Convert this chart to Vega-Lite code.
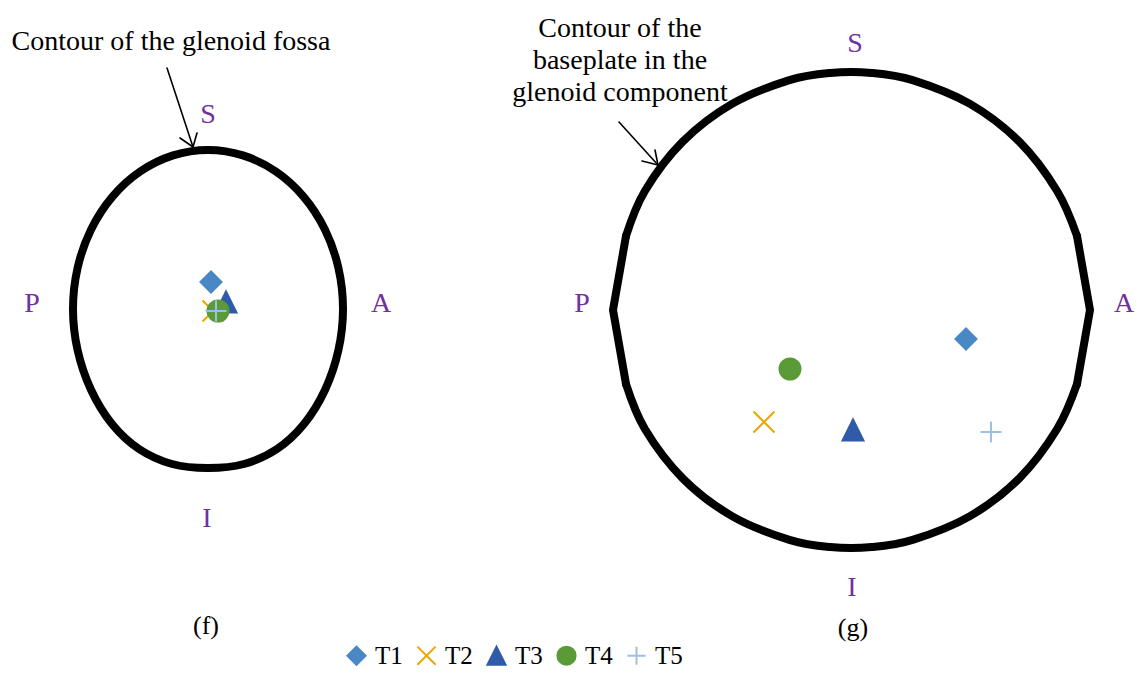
{
  "$schema": "https://vega.github.io/schema/vega-lite/v6.json",
  "width": 1142,
  "height": 673,
  "autosize": {"type": "fit", "contains": "padding"},
  "padding": 0,
  "background": "white",
  "config": {
    "view": {"stroke": null},
    "font": "Liberation Serif",
    "legend": {
      "labelFont": "Liberation Serif",
      "labelFontSize": 25,
      "labelColor": "#000000",
      "symbolSize": 330,
      "symbolStrokeWidth": 2,
      "labelOffset": 6,
      "columnPadding": 10
    }
  },
  "datasets": {
    "markers": [
      {"panel": "f", "series": "T1", "x": 211, "y": 282},
      {"panel": "f", "series": "T2", "x": 213, "y": 311},
      {"panel": "f", "series": "T3", "x": 226, "y": 302},
      {"panel": "f", "series": "T4", "x": 218, "y": 311},
      {"panel": "f", "series": "T5", "x": 216, "y": 311},
      {"panel": "g", "series": "T1", "x": 966, "y": 339},
      {"panel": "g", "series": "T2", "x": 764, "y": 422},
      {"panel": "g", "series": "T3", "x": 853, "y": 430},
      {"panel": "g", "series": "T4", "x": 790, "y": 369},
      {"panel": "g", "series": "T5", "x": 991, "y": 432}
    ],
    "fossa": [
      {"k": 0, "x": 343, "y": 309},
      {"k": 1, "x": 338.4, "y": 267.8},
      {"k": 2, "x": 324.9, "y": 229.5},
      {"k": 3, "x": 303.5, "y": 196.6},
      {"k": 4, "x": 275.5, "y": 171.3},
      {"k": 5, "x": 242.9, "y": 155.4},
      {"k": 6, "x": 208, "y": 150},
      {"k": 7, "x": 173.1, "y": 155.4},
      {"k": 8, "x": 140.5, "y": 171.3},
      {"k": 9, "x": 112.5, "y": 196.6},
      {"k": 10, "x": 91.1, "y": 229.5},
      {"k": 11, "x": 77.6, "y": 267.8},
      {"k": 12, "x": 73, "y": 309},
      {"k": 13, "x": 77.6, "y": 350.2},
      {"k": 14, "x": 91.1, "y": 390},
      {"k": 15, "x": 112, "y": 424},
      {"k": 16, "x": 139, "y": 449},
      {"k": 17, "x": 172, "y": 464},
      {"k": 18, "x": 208, "y": 468},
      {"k": 19, "x": 244, "y": 464},
      {"k": 20, "x": 277, "y": 449},
      {"k": 21, "x": 304, "y": 424},
      {"k": 22, "x": 325, "y": 390},
      {"k": 23, "x": 338.4, "y": 350.2}
    ],
    "plateArcs": [
      {"seg": "top", "k": 0, "x": 1077, "y": 236},
      {"seg": "top", "k": 1, "x": 1057.1, "y": 191},
      {"seg": "top", "k": 2, "x": 1019.3, "y": 141.7},
      {"seg": "top", "k": 3, "x": 970, "y": 103.9},
      {"seg": "top", "k": 4, "x": 912.6, "y": 80.1},
      {"seg": "top", "k": 5, "x": 871.7, "y": 72.9},
      {"seg": "top", "k": 6, "x": 830.3, "y": 72.9},
      {"seg": "top", "k": 7, "x": 789.4, "y": 80.1},
      {"seg": "top", "k": 8, "x": 732, "y": 103.9},
      {"seg": "top", "k": 9, "x": 682.7, "y": 141.7},
      {"seg": "top", "k": 10, "x": 644.9, "y": 191},
      {"seg": "top", "k": 11, "x": 626, "y": 236},
      {"seg": "bottom", "k": 0, "x": 1077, "y": 384},
      {"seg": "bottom", "k": 1, "x": 1057.1, "y": 429},
      {"seg": "bottom", "k": 2, "x": 1019.3, "y": 478.3},
      {"seg": "bottom", "k": 3, "x": 970, "y": 516.1},
      {"seg": "bottom", "k": 4, "x": 912.6, "y": 539.9},
      {"seg": "bottom", "k": 5, "x": 871.7, "y": 547.1},
      {"seg": "bottom", "k": 6, "x": 830.3, "y": 547.1},
      {"seg": "bottom", "k": 7, "x": 789.4, "y": 539.9},
      {"seg": "bottom", "k": 8, "x": 732, "y": 516.1},
      {"seg": "bottom", "k": 9, "x": 682.7, "y": 478.3},
      {"seg": "bottom", "k": 10, "x": 644.9, "y": 429},
      {"seg": "bottom", "k": 11, "x": 626, "y": 384}
    ],
    "plateSides": [
      {"seg": "left", "k": 0, "x": 626, "y": 236},
      {"seg": "left", "k": 1, "x": 613, "y": 310},
      {"seg": "left", "k": 2, "x": 626, "y": 384},
      {"seg": "right", "k": 0, "x": 1077, "y": 236},
      {"seg": "right", "k": 1, "x": 1090, "y": 310},
      {"seg": "right", "k": 2, "x": 1077, "y": 384}
    ],
    "arrows": [
      {"x": 167, "y": 68, "x2": 193, "y2": 147},
      {"x": 193, "y": 147, "x2": 180, "y2": 138},
      {"x": 193, "y": 147, "x2": 197, "y2": 133},
      {"x": 619, "y": 122, "x2": 658, "y2": 165},
      {"x": 658, "y": 165, "x2": 642, "y2": 161},
      {"x": 658, "y": 165, "x2": 655, "y2": 150}
    ],
    "directions": [
      {"t": "S", "x": 208, "y": 123},
      {"t": "P", "x": 32, "y": 312},
      {"t": "A", "x": 381, "y": 312},
      {"t": "I", "x": 207, "y": 527},
      {"t": "S", "x": 855, "y": 52},
      {"t": "P", "x": 582, "y": 312},
      {"t": "A", "x": 1124, "y": 312},
      {"t": "I", "x": 852, "y": 596}
    ],
    "notes": [
      {"t": "Contour of the glenoid fossa", "x": 171, "y": 50},
      {"t": "Contour of the", "x": 620, "y": 37},
      {"t": "baseplate in the", "x": 620, "y": 69},
      {"t": "glenoid component", "x": 620, "y": 101}
    ],
    "captions": [
      {"t": "(f)", "x": 206, "y": 634},
      {"t": "(g)", "x": 853, "y": 636}
    ]
  },
  "encoding": {
    "x": {"field": "x", "type": "quantitative", "axis": null,
          "scale": {"domain": [0, 1142], "nice": false, "zero": false}},
    "y": {"field": "y", "type": "quantitative", "axis": null,
          "scale": {"domain": [0, 673], "nice": false, "zero": false, "reverse": true}}
  },
  "layer": [
    {
      "data": {"name": "fossa"},
      "mark": {"type": "line", "interpolate": "cardinal-closed", "color": "#000000",
               "strokeWidth": 8, "strokeJoin": "round", "strokeCap": "round"},
      "encoding": {"order": {"field": "k", "type": "quantitative"}}
    },
    {
      "data": {"name": "plateArcs"},
      "mark": {"type": "line", "interpolate": "cardinal", "color": "#000000",
               "strokeWidth": 8, "strokeJoin": "round", "strokeCap": "round"},
      "encoding": {
        "detail": {"field": "seg", "type": "nominal"},
        "order": {"field": "k", "type": "quantitative"}
      }
    },
    {
      "data": {"name": "plateSides"},
      "mark": {"type": "line", "interpolate": "linear", "color": "#000000",
               "strokeWidth": 8, "strokeJoin": "miter", "strokeCap": "round"},
      "encoding": {
        "detail": {"field": "seg", "type": "nominal"},
        "order": {"field": "k", "type": "quantitative"}
      }
    },
    {
      "data": {"name": "arrows"},
      "mark": {"type": "rule", "color": "#000000", "strokeWidth": 1.6, "strokeCap": "round"},
      "encoding": {
        "x2": {"field": "x2"},
        "y2": {"field": "y2"}
      }
    },
    {
      "data": {"name": "markers"},
      "mark": {"type": "point", "filled": true, "opacity": 1, "size": 441, "strokeWidth": 2},
      "encoding": {
        "shape": {
          "field": "series", "type": "nominal",
          "scale": {
            "domain": ["T1", "T2", "T3", "T4", "T5"],
            "range": ["diamond", "M-1,-1L1,1M-1,1L1,-1", "M0,-1L1,1L-1,1Z", "circle", "M-1,0L1,0M0,-1L0,1"]
          },
          "legend": {
            "title": null, "orient": "none", "direction": "horizontal", "columns": 5,
            "legendX": 344, "legendY": 643
          }
        },
        "color": {
          "field": "series", "type": "nominal",
          "scale": {
            "domain": ["T1", "T2", "T3", "T4", "T5"],
            "range": ["#4a87c5", "#eca700", "#2f5ba8", "#5a9a37", "#9dbfe4"]
          },
          "legend": {
            "title": null, "orient": "none", "direction": "horizontal", "columns": 5,
            "legendX": 344, "legendY": 643
          }
        },
        "stroke": {
          "field": "series", "type": "nominal",
          "scale": {
            "domain": ["T1", "T2", "T3", "T4", "T5"],
            "range": ["#4a87c5", "#eca700", "#2f5ba8", "#5a9a37", "#9dbfe4"]
          },
          "legend": {
            "title": null, "orient": "none", "direction": "horizontal", "columns": 5,
            "legendX": 344, "legendY": 643
          }
        }
      }
    },
    {
      "data": {"name": "directions"},
      "mark": {"type": "text", "align": "center", "baseline": "alphabetic",
               "font": "Liberation Serif", "fontSize": 28, "color": "#7030a0"},
      "encoding": {"text": {"field": "t", "type": "nominal"}}
    },
    {
      "data": {"name": "notes"},
      "mark": {"type": "text", "align": "center", "baseline": "alphabetic",
               "font": "Liberation Serif", "fontSize": 28, "color": "#000000"},
      "encoding": {"text": {"field": "t", "type": "nominal"}}
    },
    {
      "data": {"name": "captions"},
      "mark": {"type": "text", "align": "center", "baseline": "alphabetic",
               "font": "Liberation Serif", "fontSize": 26, "color": "#000000"},
      "encoding": {"text": {"field": "t", "type": "nominal"}}
    }
  ]
}
